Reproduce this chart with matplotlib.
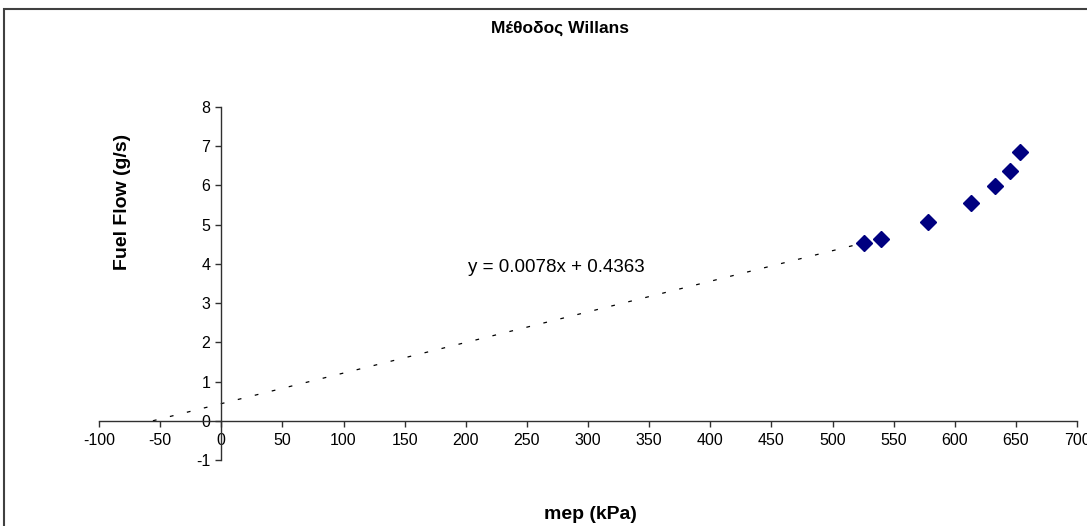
import matplotlib
matplotlib.use("Agg")
import matplotlib.pyplot as plt
from matplotlib.patches import Rectangle

plt.rcParams["font.family"] = ["Liberation Sans", "DejaVu Sans"]
plt.rcParams["axes.unicode_minus"] = False

# -------------------------
# Data
# -------------------------
mep = [526, 540, 578, 613, 633, 645, 653]
fuel_flow = [4.52, 4.63, 5.07, 5.55, 5.99, 6.37, 6.84]

slope = 0.0078
intercept = 0.4363
eq_label = "y = 0.0078x + 0.4363"

x_ticks = list(range(-100, 701, 50))
y_ticks = list(range(-1, 9))

title = "Μέθοδος Willans"
x_label = "mep (kPa)"
y_label = "Fuel Flow (g/s)"

# -------------------------
# Figure
# -------------------------
fig = plt.figure(figsize=(10.87, 5.26), dpi=100)
ax = fig.add_axes([0.0911, 0.1255, 0.8997, 0.6711])

# trendline, extended back to y = 0
x0 = -intercept / slope
x1 = min(mep)
ax.plot([x0, x1], [slope * x0 + intercept, slope * x1 + intercept],
        color="black", lw=0.9, linestyle=(0, (3, 11)), zorder=2)

ax.plot(mep, fuel_flow, linestyle="none", marker="D", markersize=8.5,
        color="#000080", markeredgecolor="#000080", zorder=3)

ax.set_xlim(-100, 700)
ax.set_ylim(-1, 8)
ax.set_xticks(x_ticks)
ax.set_yticks(y_ticks)

ax.spines["left"].set_position(("data", 0))
ax.spines["bottom"].set_position(("data", 0))
ax.spines["right"].set_visible(False)
ax.spines["top"].set_visible(False)
for sp in ("left", "bottom"):
    ax.spines[sp].set_color("#303030")
    ax.spines[sp].set_linewidth(1.0)

ax.tick_params(axis="both", direction="out", length=4, width=1,
               color="#303030", labelsize=11.5)
ax.tick_params(axis="x", pad=5)
ax.tick_params(axis="y", pad=4)
ax.patch.set_alpha(0)

ax.text(274, 3.92, eq_label, ha="center", va="center", fontsize=13.5)

fig.text(0.515, 0.947, title, ha="center", va="center",
         fontsize=12.5, fontweight="bold")
fig.text(0.543, 0.022, x_label, ha="center", va="center",
         fontsize=14, fontweight="bold")
fig.text(0.113, 0.616, y_label, ha="center", va="center",
         fontsize=14, fontweight="bold", rotation=90)

# chart frame (only top and left edges are inside the picture)
fig.patches.append(Rectangle((4 / 1087, -0.2), 2.0, 517 / 526 + 0.2,
                             transform=fig.transFigure, fill=False,
                             edgecolor="#404040", lw=1.5))

fig.savefig("out.png", dpi=100)
